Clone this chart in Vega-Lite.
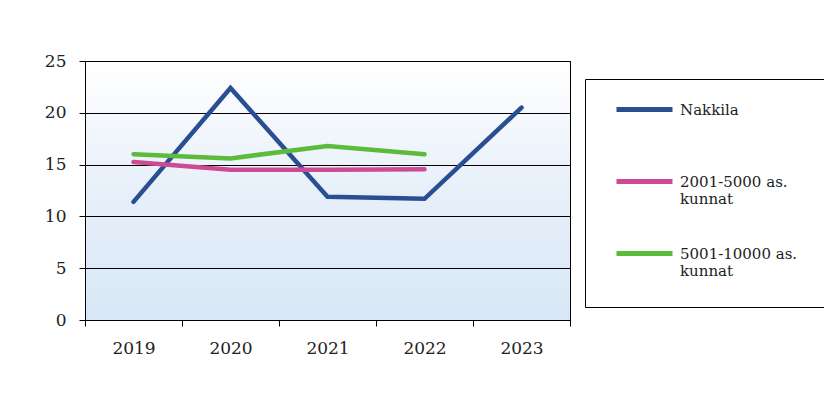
{
  "$schema": "https://vega.github.io/schema/vega-lite/v6.json",
  "width": 485,
  "height": 259,
  "autosize": {"type": "none"},
  "padding": {"left": 85, "top": 61, "right": 254, "bottom": 87},
  "background": "white",
  "config": {
    "font": "DejaVu Serif",
    "view": {
      "stroke": "black",
      "strokeWidth": 1,
      "fill": {
        "gradient": "linear",
        "x1": 0, "y1": 0, "x2": 0, "y2": 1,
        "stops": [
          {"offset": 0, "color": "#ffffff"},
          {"offset": 0.2, "color": "#f6f9fd"},
          {"offset": 0.45, "color": "#e9f1fa"},
          {"offset": 1, "color": "#d8e7f6"}
        ]
      }
    }
  },
  "data": {
    "values": [
      {"vuosi": "2019", "sarja": "Nakkila", "arvo": 11.4},
      {"vuosi": "2020", "sarja": "Nakkila", "arvo": 22.4},
      {"vuosi": "2021", "sarja": "Nakkila", "arvo": 11.9},
      {"vuosi": "2022", "sarja": "Nakkila", "arvo": 11.7},
      {"vuosi": "2023", "sarja": "Nakkila", "arvo": 20.5},
      {"vuosi": "2019", "sarja": "2001-5000 as. kunnat", "arvo": 15.25},
      {"vuosi": "2020", "sarja": "2001-5000 as. kunnat", "arvo": 14.5},
      {"vuosi": "2021", "sarja": "2001-5000 as. kunnat", "arvo": 14.5},
      {"vuosi": "2022", "sarja": "2001-5000 as. kunnat", "arvo": 14.55},
      {"vuosi": "2019", "sarja": "5001-10000 as. kunnat", "arvo": 16.0},
      {"vuosi": "2020", "sarja": "5001-10000 as. kunnat", "arvo": 15.6},
      {"vuosi": "2021", "sarja": "5001-10000 as. kunnat", "arvo": 16.8},
      {"vuosi": "2022", "sarja": "5001-10000 as. kunnat", "arvo": 16.0}
    ]
  },
  "mark": {"type": "line", "strokeWidth": 4.5, "strokeCap": "round", "strokeJoin": "miter"},
  "encoding": {
    "x": {
      "field": "vuosi",
      "type": "ordinal",
      "scale": {"type": "band", "paddingInner": 0, "paddingOuter": 0},
      "axis": {
        "title": null,
        "labelAngle": 0,
        "tickBand": "extent",
        "tickSize": 6,
        "tickColor": "black",
        "domainColor": "black",
        "labelFontSize": 17,
        "labelColor": "#222222",
        "labelPadding": 14,
        "grid": false
      }
    },
    "y": {
      "field": "arvo",
      "type": "quantitative",
      "scale": {"domain": [0, 25]},
      "axis": {
        "title": null,
        "values": [0, 5, 10, 15, 20, 25],
        "grid": true,
        "gridColor": "black",
        "gridOpacity": 1,
        "gridWidth": 1,
        "tickSize": 6,
        "tickColor": "black",
        "domainColor": "black",
        "labelFontSize": 17,
        "labelColor": "#222222",
        "labelPadding": 13
      }
    },
    "color": {
      "field": "sarja",
      "type": "nominal",
      "scale": {
        "domain": ["Nakkila", "2001-5000 as. kunnat", "5001-10000 as. kunnat"],
        "range": ["#2a4e92", "#cc4b93", "#5dbb3b"]
      },
      "legend": {
        "title": null,
        "orient": "none",
        "legendX": 500,
        "legendY": 18,
        "strokeColor": "black",
        "fillColor": "white",
        "padding": 28,
        "symbolType": "M-7,-1.25L7,-1.25",
        "symbolSize": 64,
        "symbolOffset": 24,
        "symbolStrokeWidth": 5,
        "labelFontSize": 15,
        "labelColor": "#222222",
        "labelOffset": 28,
        "labelLimit": 300,
        "labelBaseline": "alphabetic",
        "rowPadding": 36,
        "labelExpr": "indexof(datum.label, ' kunnat') > 0 ? [replace(datum.label, ' kunnat', ''), 'kunnat'] : [datum.label, ' ']"
      }
    }
  }
}
